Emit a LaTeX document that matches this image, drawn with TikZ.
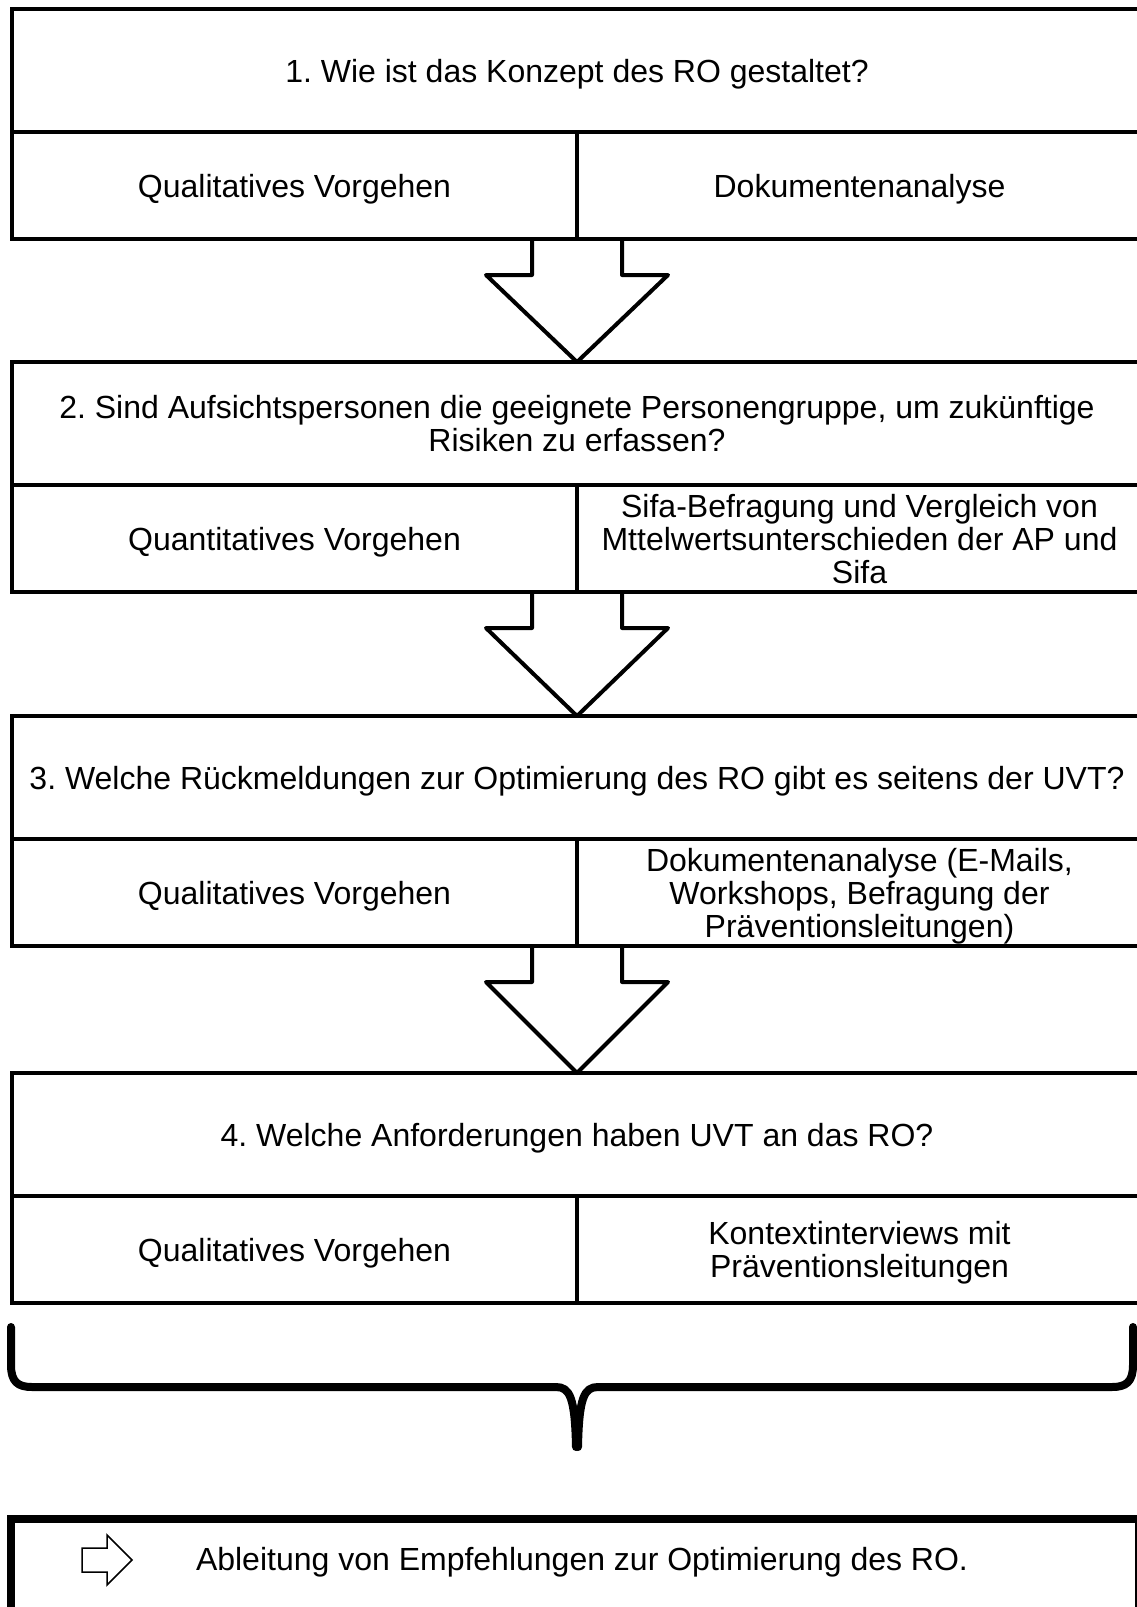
\documentclass[tikz,border=0pt]{standalone}
\usepackage{fontspec}
\setmainfont{Liberation Sans}
\usetikzlibrary{calc}
\frenchspacing

\tikzset{
  frage/.style={draw, line width=2pt, minimum width=565pt, minimum height=61.5pt,
    inner sep=1pt, outer sep=0pt, text depth=0pt, align=center, anchor=north},
  halb/.style={draw, line width=2pt, minimum width=282.5pt, minimum height=53.5pt,
    inner sep=1pt, outer sep=0pt, text depth=0pt, align=center, anchor=north west},
  pfeil/.style={draw, fill=white, line width=2pt, line join=round},
  klammer/.style={line width=4pt, line cap=round, line join=round},
  icon/.style={draw, fill=white, line width=0.75pt, line join=miter},
}

\begin{document}
\begin{tikzpicture}[x=0.5pt, y=-0.5pt, font=\fontsize{16}{16.5}\selectfont]
  \fill[white] (0,0) rectangle (1136,1607);
  \useasboundingbox (0,0) rectangle (1136,1607);

  % Fragen mit Vorgehen und Methode
  \node[frage] (frage1) at (577,9) {1. Wie ist das Konzept des RO gestaltet?};
  \node[halb] (vorgehen1) at (frage1.south west) {Qualitatives Vorgehen};
  \node[halb] (methode1) at (vorgehen1.north east) {Dokumentenanalyse};

  \node[frage] (frage2) at (577,362) {2. Sind Aufsichtspersonen die geeignete Personengruppe, um zukünftige\\Risiken zu erfassen?};
  \node[halb] (vorgehen2) at (frage2.south west) {Quantitatives Vorgehen};
  \node[halb] (methode2) at (vorgehen2.north east) {Sifa-Befragung und Vergleich von\\Mttelwertsunterschieden der AP und\\Sifa};

  \node[frage] (frage3) at (577,716) {3. Welche Rückmeldungen zur Optimierung des RO gibt es seitens der UVT?};
  \node[halb] (vorgehen3) at (frage3.south west) {Qualitatives Vorgehen};
  \node[halb] (methode3) at (vorgehen3.north east) {Dokumentenanalyse (E-Mails,\\Workshops, Befragung der\\Präventionsleitungen)};

  \node[frage] (frage4) at (577,1073) {4. Welche Anforderungen haben UVT an das RO?};
  \node[halb] (vorgehen4) at (frage4.south west) {Qualitatives Vorgehen};
  \node[halb] (methode4) at (vorgehen4.north east) {Kontextinterviews mit\\Präventionsleitungen};

  % Blockpfeile
  \foreach \i/\j in {1/2,2/3,3/4}
    \draw[pfeil] ($(vorgehen\i.south east)+(-45,2)$) -- ++(0,34) -- ++(-46,0) -- (frage\j.north)
      -- ($(vorgehen\i.south east)+(91,36)$) -- ++(-46,0) -- ++(0,-34);

  % Klammer
  \coordinate (klammerL) at (11,1327);
  \coordinate (klammerR) at (1133,1327);
  \draw[klammer] (klammerL) -- (11,1365) .. controls (11,1382) and (18,1387) .. (32,1387)
    -- (556,1387) .. controls (570,1387) and (575,1398) .. (576,1447);
  \draw[klammer] (klammerR) -- (1133,1365) .. controls (1133,1382) and (1126,1387) .. (1112,1387)
    -- (598,1387) .. controls (584,1387) and (579,1398) .. (578,1447);

  % Ergebnis
  \node[draw, line width=4pt, minimum width=564pt, inner xsep=0pt, inner ysep=0pt, outer sep=0pt,
    text height=25.5pt, text depth=60pt, anchor=north] (fazit) at (575,1519)
    {\hspace*{7pt}Ableitung von Empfehlungen zur Optimierung des RO.};
  \draw[icon] ($(fazit.north west)+(71,29)$) -- ++(25,0) -- ++(0,-13) -- ++(25,25)
    -- ++(-25,25) -- ++(0,-13) -- ++(-25,0) -- cycle;
\end{tikzpicture}
\end{document}
